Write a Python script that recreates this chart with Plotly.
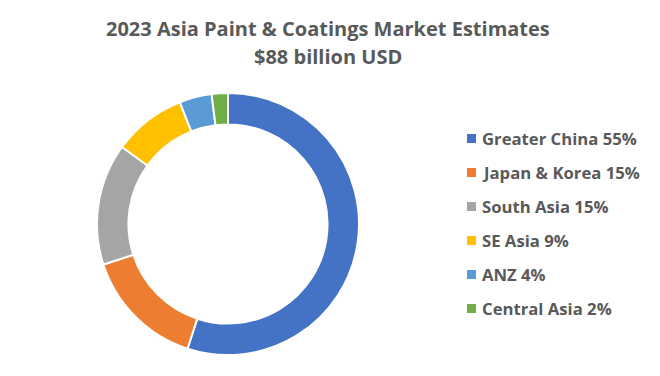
import plotly.graph_objects as go

regions = ["Greater China", "Japan & Korea", "South Asia", "SE Asia", "ANZ", "Central Asia"]
shares = [55, 15, 15, 9, 4, 2]
colors = ["#4472C4", "#ED7D31", "#A5A5A5", "#FFC000", "#5B9BD5", "#70AD47"]
title_lines = ["2023 Asia Paint & Coatings Market Estimates", "$88 billion USD"]

W, H = 660, 376
FONT = "Open Sans"
TXT = "#595959"

fig = go.Figure(go.Pie(
    labels=regions, values=shares, sort=False, direction="clockwise", rotation=0,
    hole=0.76, textinfo="none", hoverinfo="label+percent",
    marker=dict(colors=colors, line=dict(color="white", width=2)),
    domain=dict(x=[97 / W, 359 / W], y=[1 - 355 / H, 1 - 93 / H]),
    showlegend=False,
))

annotations = []
shapes = []
y0, dy = 138.5, 34.0
for i, (r, s, c) in enumerate(zip(regions, shares, colors)):
    yc = y0 + i * dy
    shapes.append(dict(type="rect", xref="paper", yref="paper",
                       x0=467 / W, x1=476 / W, y0=1 - (yc + 4.5) / H, y1=1 - (yc - 4.5) / H,
                       fillcolor=c, line=dict(width=0)))
    annotations.append(dict(text=f"<b>{r} {s}%</b>", xref="paper", yref="paper",
                            x=480 / W, y=1 - yc / H, xanchor="left", yanchor="middle",
                            showarrow=False, font=dict(family=FONT, size=16.7, color=TXT)))

for j, (t, yc) in enumerate(zip(title_lines, [28, 56])):
    annotations.append(dict(text=f"<b>{t}</b>", xref="paper", yref="paper",
                            x=0.497, y=1 - yc / H, xanchor="center", yanchor="middle",
                            showarrow=False, font=dict(family=FONT, size=20, color=TXT)))

fig.update_layout(
    width=W, height=H, margin=dict(l=0, r=0, t=0, b=0),
    paper_bgcolor="white", plot_bgcolor="white",
    annotations=annotations, shapes=shapes,
)
fig.write_html("out.html", config={"displayModeBar": False},
               post_script="document.body.style.margin='0';")
